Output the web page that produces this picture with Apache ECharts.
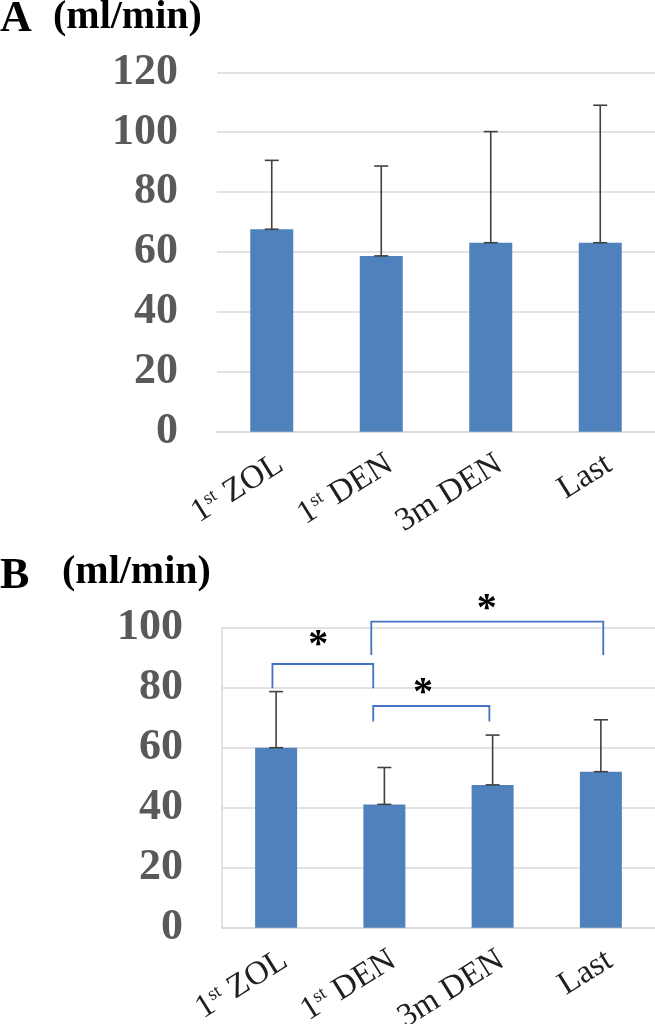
<!DOCTYPE html>
<html>
<head>
<meta charset="utf-8">
<script src="https://cdn.jsdelivr.net/npm/echarts@6/dist/echarts.min.js"></script>
<style>html,body{margin:0;padding:0;background:#fff;}#c{width:655px;height:1024px;}</style>
</head>
<body>
<div id="c"></div>
<script>
// ---- data ----
const categories = ['1st ZOL', '1st DEN', '3m DEN', 'Last'];
const meanA = [67.6, 58.7, 63.1, 63.1];
const sdA = [23.0, 30.0, 37.1, 45.9];
const meanB = [60.0, 41.1, 47.6, 52.0];
const sdB = [18.7, 12.3, 16.6, 17.3];
const yMaxA = 120, yMaxB = 100, yStep = 20;
// significance brackets in panel B (category positions, values)
const bracketFrom = [-0.034, 0.879, 0.897];
const bracketTo = [0.897, 3.022, 1.97];
const bracketTop = [87.9, 102.0, 73.9];
const bracketLeg = [79.8, 90.9, 68.7];
const starX = [0.39, 1.945, 1.357];
const starY = [95.7, 107.6, 79.8];
const starText = ['*', '*', '*'];

const SERIF = '"Liberation Serif", "Times New Roman", serif';
const BAR = '#4F81BD';
const GRID = '#d9d9d9';

const chart = echarts.init(document.getElementById('c'), null, {renderer: 'canvas'});

function labelFmt(v) { return v.replace(/^(\d)st/, '$1{sup|st}'); }

function xAxisCfg(gi) {
  return {
    type: 'category', gridIndex: gi, data: categories,
    axisLine: {show: true, lineStyle: {color: GRID, width: 1.5}},
    axisTick: {show: false},
    axisLabel: {
      rotate: 32, margin: 16, interval: 0, verticalAlign: 'top',
      fontFamily: SERIF, fontSize: 33, color: '#1f1f1f', lineHeight: 33,
      formatter: labelFmt,
      rich: {sup: {fontFamily: SERIF, fontSize: 19, color: '#1f1f1f', verticalAlign: 'top', lineHeight: 33}}
    }
  };
}
function yAxisCfg(gi, max, showLine) {
  return {
    type: 'value', gridIndex: gi, min: 0, max: max, interval: yStep,
    axisLine: {show: showLine, lineStyle: {color: GRID, width: 1.5}},
    axisTick: {show: false},
    splitLine: {lineStyle: {color: GRID, width: 1.5}},
    axisLabel: {fontFamily: SERIF, fontSize: 44, fontWeight: 'bold', color: '#595959', margin: 39}
  };
}

function errRender(params, api) {
  const x = api.coord([api.value(0), api.value(1)])[0];
  const y0 = api.coord([api.value(0), api.value(1)])[1];
  const y1 = api.coord([api.value(0), api.value(2)])[1];
  const hw = 7;
  const st = {stroke: '#404040', lineWidth: 1.6};
  return {type: 'group', children: [
    {type: 'line', shape: {x1: x, y1: y0, x2: x, y2: y1}, style: st},
    {type: 'line', shape: {x1: x - hw, y1: y1, x2: x + hw, y2: y1}, style: st},
    {type: 'line', shape: {x1: x - hw, y1: y0, x2: x + hw, y2: y0}, style: st}
  ]};
}

function bracketRender(params, api) {
  const i = params.dataIndex;
  const bw = api.size([1, 0])[0];
  function px(c, v) {
    const base = Math.round(c);
    const p = api.coord([base, v]);
    return [p[0] + (c - base) * bw, p[1]];
  }
  const a = px(bracketFrom[i], bracketLeg[i]);
  const b = px(bracketFrom[i], bracketTop[i]);
  const c = px(bracketTo[i], bracketTop[i]);
  const d = px(bracketTo[i], bracketLeg[i]);
  const s = px(starX[i], starY[i]);
  return {type: 'group', children: [
    {type: 'polyline', shape: {points: [a, b, c, d]}, style: {stroke: '#4472C4', lineWidth: 1.8, fill: null}},
    {type: 'text', x: s[0], y: s[1] + 5, style: {text: starText[i], font: 'bold 40px ' + SERIF, fill: '#000', align: 'center', verticalAlign: 'middle'}}
  ]};
}

const titleStyle = (size) => ({fontFamily: SERIF, fontSize: size, fontWeight: 'bold', color: '#000', lineHeight: size});

chart.setOption({
  animation: false,
  backgroundColor: '#fff',
  title: [
    {text: 'A', left: 0, top: -2, padding: 0, textStyle: titleStyle(44)},
    {text: '(ml/min)', left: 53, top: -2, padding: 0, textStyle: titleStyle(40)},
    {text: 'B', left: 0, top: 555, padding: 0, textStyle: titleStyle(44)},
    {text: '(ml/min)', left: 62, top: 553, padding: 0, textStyle: titleStyle(40)}
  ],
  grid: [
    {left: 217, right: 0, top: 72.3, height: 359.4, containLabel: false, outerBoundsMode: 'none'},
    {left: 222, right: 0, top: 627.7, height: 300, containLabel: false, outerBoundsMode: 'none'}
  ],
  xAxis: [xAxisCfg(0), xAxisCfg(1)],
  yAxis: [yAxisCfg(0, yMaxA, false), yAxisCfg(1, yMaxB, true)],
  series: [
    {type: 'bar', xAxisIndex: 0, yAxisIndex: 0, data: meanA, barWidth: 43, itemStyle: {color: BAR}, z: 2},
    {type: 'custom', xAxisIndex: 0, yAxisIndex: 0, renderItem: errRender, z: 3,
      data: meanA.map((m, i) => [i, m, m + sdA[i]]), encode: {x: 0, y: [1, 2]}},
    {type: 'bar', xAxisIndex: 1, yAxisIndex: 1, data: meanB, barWidth: 42, itemStyle: {color: BAR}, z: 2},
    {type: 'custom', xAxisIndex: 1, yAxisIndex: 1, renderItem: errRender, z: 3,
      data: meanB.map((m, i) => [i, m, m + sdB[i]]), encode: {x: 0, y: [1, 2]}},
    {type: 'custom', xAxisIndex: 1, yAxisIndex: 1, renderItem: bracketRender, z: 4, clip: false,
      data: bracketTop.map((v, i) => [i, v]), encode: {x: 0, y: 1}}
  ]
});
</script>
</body>
</html>
